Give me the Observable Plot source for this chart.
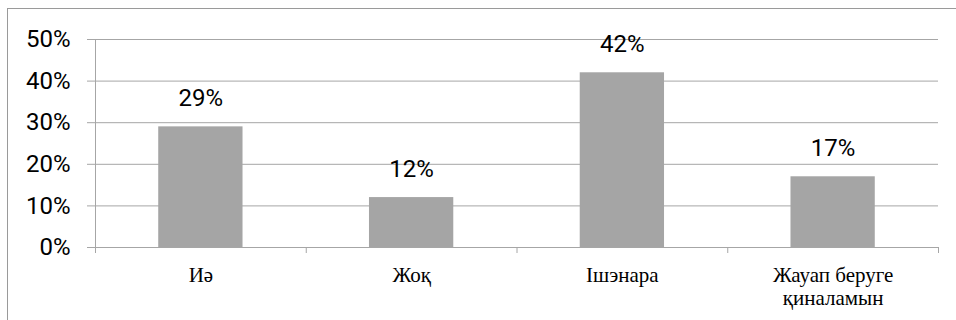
<!DOCTYPE html>
<html>
<head>
<meta charset="utf-8">
<script src="https://cdn.jsdelivr.net/npm/d3@7"></script>
<script src="https://cdn.jsdelivr.net/npm/@observablehq/plot@0.6"></script>
<style>
  html, body { margin: 0; padding: 0; background: #fff; overflow: hidden; }
  #wrap { position: relative; width: 956px; height: 320px; }
  #border { position: absolute; left: 7px; top: 8px; width: 960px; height: 330px; border: 1px solid #9a9a9a; box-sizing: border-box; }
  #chart { position: absolute; left: 0; top: 0; }
</style>
</head>
<body>
<div id="wrap"><div id="border"></div><div id="chart"></div></div>
<script>
const categories = ["Иә", "Жоқ", "Ішэнара", "Жауап беруге\nқиналамын"];
const values = [0.29, 0.12, 0.42, 0.17];
const valueLabels = ["29%", "12%", "42%", "17%"];
const yTicks = [0, 0.1, 0.2, 0.3, 0.4, 0.5];

const data = categories.map((c, i) => ({cat: c, idx: i, value: values[i], label: valueLabels[i]}));
const boundaries = d3.range(categories.length + 1);
const barInset = 0.3;

const grey = "#a6a6a6";
const sans = "Roboto, 'Open Sans', 'Liberation Sans', sans-serif";
const serif = "'Liberation Serif', 'DejaVu Serif', serif";

const plot = Plot.plot({
  width: 956,
  height: 320,
  marginLeft: 95,
  marginRight: 18,
  marginTop: 39,
  marginBottom: 73,
  style: {background: "transparent", overflow: "visible"},
  x: {domain: [0, categories.length], label: null},
  y: {domain: [0, 0.5], label: null},
  marks: [
    Plot.gridY(yTicks, {stroke: grey, strokeOpacity: 1, strokeWidth: 1}),
    Plot.axisY(yTicks, {tickSize: 8, tickPadding: 17, stroke: grey, tickFormat: d3.format(".0%"), label: null,
      fontSize: 24, fontFamily: sans, fill: "#000"}),
    Plot.ruleX([0], {stroke: grey, insetBottom: -6}),
    Plot.axisX(boundaries, {tickSize: 6, stroke: grey, tickFormat: () => "", label: null}),
    Plot.rectY(data, {x1: d => d.idx + barInset, x2: d => d.idx + 1 - barInset, y: "value", fill: "#a5a5a5"}),
    Plot.text(data, {x: d => d.idx + 0.5, y: "value", text: "label", lineAnchor: "bottom", dy: -21,
      fontSize: 24, fontFamily: sans, fill: "#000"}),
    Plot.text(data, {x: d => d.idx + 0.5, y: () => 0, text: "cat", lineAnchor: "top", dy: 18,
      lineHeight: 1.1, fontSize: 21, fontFamily: serif, fill: "#000"})
  ]
});
document.getElementById("chart").appendChild(plot);
</script>
</body>
</html>
